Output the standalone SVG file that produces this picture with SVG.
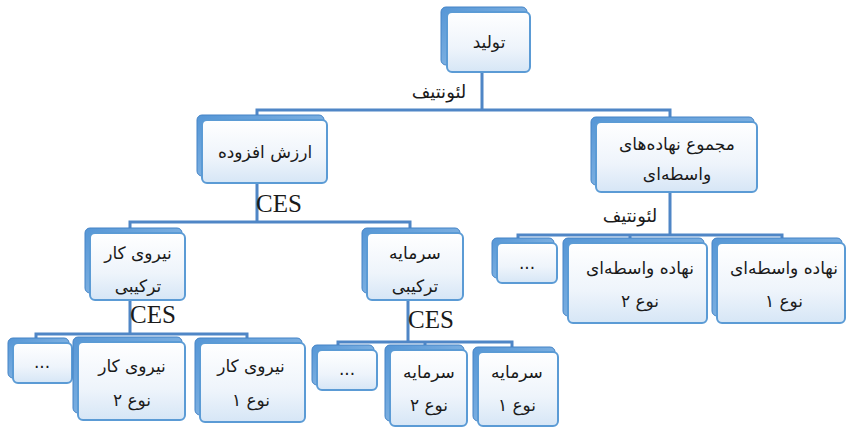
<svg xmlns="http://www.w3.org/2000/svg" width="847" height="427" viewBox="0 0 847 427">
<defs>
<linearGradient id="gFront" x1="0" y1="0" x2="0" y2="1">
<stop offset="0" stop-color="#ffffff"/>
<stop offset="0.6" stop-color="#eef4fb"/>
<stop offset="1" stop-color="#d6e6f6"/>
</linearGradient>
<linearGradient id="gBack" x1="0" y1="0" x2="1" y2="1">
<stop offset="0" stop-color="#5596d6"/>
<stop offset="1" stop-color="#9cc4ea"/>
</linearGradient>
</defs>
<style>
.bk{fill:url(#gBack);stroke:#4483c6;stroke-width:1}
.fr{fill:url(#gFront);stroke:#5b9bd5;stroke-width:2}
.t{font-family:"DejaVu Sans",sans-serif;font-size:17px;fill:#1a1a1a;text-anchor:middle;direction:rtl}
.lbl{font-family:"DejaVu Sans",sans-serif;font-size:18px;fill:#1a1a1a;text-anchor:middle;direction:rtl}
.ces{font-family:"Liberation Serif",serif;font-size:25px;fill:#1a1a1a}
.c{fill:none;stroke:#4f86c6;stroke-width:3}
</style>
<rect width="847" height="427" fill="#ffffff"/>
<g id="connectors">
<path class="c" d="M482 72V110M257 115V110H670V117"/>
<path class="c" d="M257 183V222M130 228V222H410V232"/>
<path class="c" d="M130 300V334M36 338V334H247V338"/>
<path class="c" d="M408 300V342M338 345V342H512V347M425 342V345"/>
<path class="c" d="M670 192V235M518 238V235H782V238M630 235V238"/>
</g>
<g id="labels">
<text class="lbl" x="439" y="98">لئونتیف</text>
<text class="ces" x="256" y="212">CES</text>
<text class="ces" x="130" y="323">CES</text>
<text class="ces" x="408" y="328">CES</text>
<text class="lbl" x="630" y="222">لئونتیف</text>
</g>
<g id="n-tolid">
<rect class="bk" x="441" y="7" width="86" height="58" rx="5"/>
<rect class="fr" x="447" y="12" width="83" height="60" rx="5"/>
<text class="t" x="489" y="48">تولید</text>
</g>
<g id="n-arzesh">
<rect class="bk" x="197" y="115" width="127" height="61" rx="5"/>
<rect class="fr" x="202" y="120" width="125" height="63" rx="5"/>
<text class="t" x="265" y="158">ارزش افزوده</text>
</g>
<g id="n-majmoo">
<rect class="bk" x="591" y="117" width="163" height="68" rx="5"/>
<rect class="fr" x="596" y="122" width="161" height="70" rx="5"/>
<text class="t" x="677" y="150">مجموع نهاده‌های</text>
<text class="t" x="677" y="180">واسطه‌ای</text>
</g>
<g id="n-niroo">
<rect class="bk" x="85" y="228" width="97" height="65" rx="5"/>
<rect class="fr" x="90" y="233" width="95" height="67" rx="5"/>
<text class="t" x="138" y="259">نیروی کار</text>
<text class="t" x="138" y="292">ترکیبی</text>
</g>
<g id="n-sarmaye">
<rect class="bk" x="362" y="228" width="98" height="65" rx="5"/>
<rect class="fr" x="367" y="233" width="96" height="67" rx="5"/>
<text class="t" x="415" y="259">سرمایه</text>
<text class="t" x="415" y="292">ترکیبی</text>
</g>
<g id="n-dots-r">
<rect class="bk" x="492" y="238" width="62" height="40" rx="5"/>
<rect class="fr" x="497" y="243" width="60" height="40" rx="5"/>
<text class="t" x="527" y="269">...</text>
</g>
<g id="n-nahade2">
<rect class="bk" x="563" y="238" width="141" height="78" rx="5"/>
<rect class="fr" x="568" y="243" width="139" height="80" rx="5"/>
<text class="t" x="640" y="274">نهاده واسطه‌ای</text>
<text class="t" x="640" y="307">نوع ۲</text>
</g>
<g id="n-nahade1">
<rect class="bk" x="712" y="238" width="130" height="78" rx="5"/>
<rect class="fr" x="717" y="243" width="128" height="80" rx="5"/>
<text class="t" x="784" y="274">نهاده واسطه‌ای</text>
<text class="t" x="784" y="307">نوع ۱</text>
</g>
<g id="n-dots-l">
<rect class="bk" x="8" y="338" width="61" height="40" rx="5"/>
<rect class="fr" x="13" y="343" width="59" height="40" rx="5"/>
<text class="t" x="42" y="368">...</text>
</g>
<g id="n-niroo2">
<rect class="bk" x="73" y="337" width="109" height="76" rx="5"/>
<rect class="fr" x="78" y="342" width="107" height="78" rx="5"/>
<text class="t" x="132" y="372">نیروی کار</text>
<text class="t" x="132" y="406">نوع ۲</text>
</g>
<g id="n-niroo1">
<rect class="bk" x="195" y="338" width="107" height="77" rx="5"/>
<rect class="fr" x="200" y="343" width="105" height="79" rx="5"/>
<text class="t" x="251" y="372">نیروی کار</text>
<text class="t" x="251" y="406">نوع ۱</text>
</g>
<g id="n-dots-m">
<rect class="bk" x="312" y="345" width="62" height="40" rx="5"/>
<rect class="fr" x="317" y="350" width="60" height="40" rx="5"/>
<text class="t" x="347" y="375">...</text>
</g>
<g id="n-sarmaye2">
<rect class="bk" x="385" y="345" width="79" height="76" rx="5"/>
<rect class="fr" x="390" y="350" width="77" height="76" rx="5"/>
<text class="t" x="429" y="378">سرمایه</text>
<text class="t" x="429" y="411">نوع ۲</text>
</g>
<g id="n-sarmaye1">
<rect class="bk" x="473" y="347" width="82" height="74" rx="5"/>
<rect class="fr" x="478" y="352" width="80" height="74" rx="5"/>
<text class="t" x="517" y="378">سرمایه</text>
<text class="t" x="517" y="411">نوع ۱</text>
</g>
</svg>
